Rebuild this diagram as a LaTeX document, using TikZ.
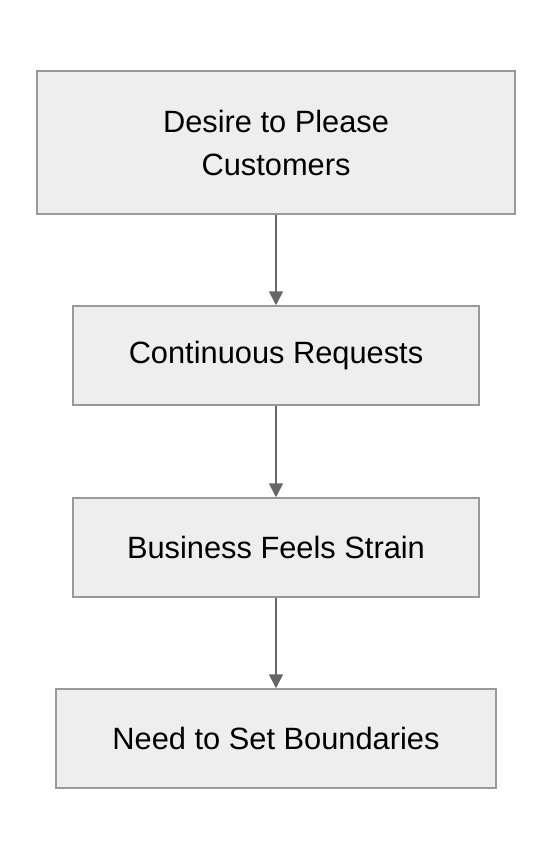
\documentclass[tikz,border=0pt]{standalone}
\usepackage{fontspec}
\setmainfont{Liberation Sans}
\usetikzlibrary{arrows.meta}
\begin{document}
\begin{tikzpicture}
[boxDecorate/.style={shape=rectangle,draw=boxline,fill=boxfill,line width=1.5pt,
   align=center,font=\fontsize{30.8}{43}\selectfont,inner sep=0pt},%
  lineDecorate/.style={draw=arrowgray,line width=1.8pt,-{Triangle[length=14pt,width=14pt]}},%
  x=1pt,y=-1pt]
\definecolor{boxfill}{HTML}{EEEEEE}
\definecolor{boxline}{HTML}{999999}
\definecolor{arrowgray}{HTML}{666666}
\useasboundingbox (0,0) rectangle (552,860);
%% boxes
\foreach \nodename/\y/\w/\h/\text in {
  desire/142.5/478/143/{Desire to Please\\Customers},
  requests/355.5/406/99/{Continuous Requests},
  strain/547.5/406/99/{Business Feels Strain},
  boundaries/738.5/440/99/{Need to Set Boundaries}}
{
  \node (\nodename) at (276,\y) [boxDecorate,minimum width=\w pt,minimum height=\h pt] {\text};
}
%% arrows
\foreach \startnode/\endnode in {desire/requests, requests/strain, strain/boundaries}
{
  \draw[lineDecorate] (\startnode) -- (\endnode);
}
\end{tikzpicture}
\end{document}
